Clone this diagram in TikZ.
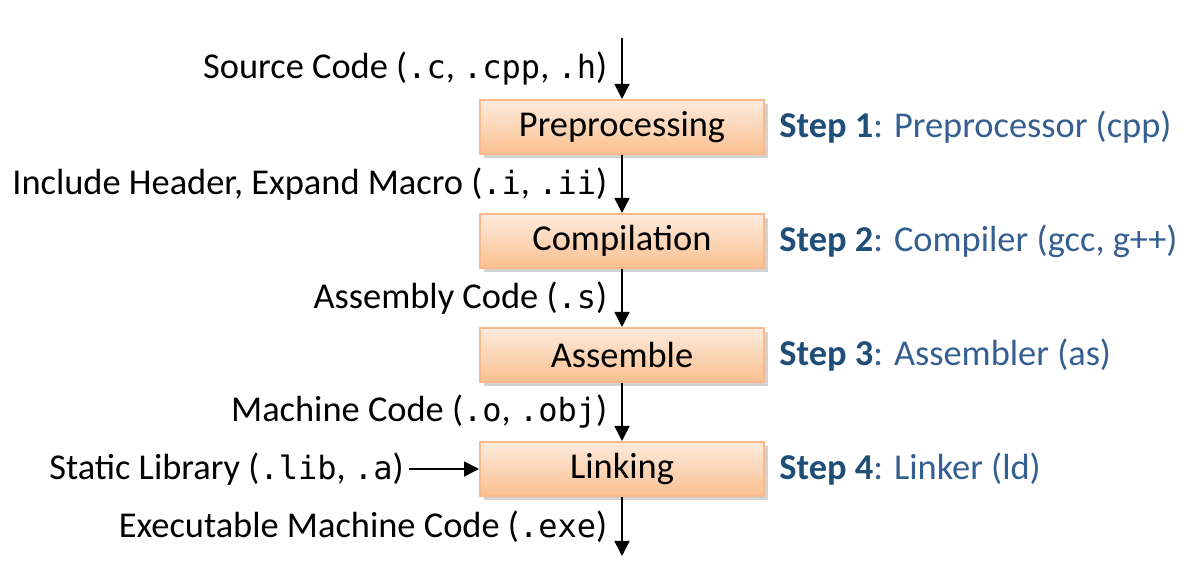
\documentclass[tikz,border=0pt]{standalone}
\usepackage{fontspec}
\setmainfont{Carlito}
\newfontfamily\codefont{DejaVu Sans Mono}[Scale=0.88]
\usepackage{tikz}
\usetikzlibrary{positioning,shadows,arrows.meta}
\definecolor{boxtop}{HTML}{FDEBDD}
\definecolor{boxbot}{HTML}{FAC090}
\definecolor{boxline}{HTML}{F9B98A}
\definecolor{stepbold}{HTML}{1F4E79}
\definecolor{steptext}{HTML}{365F91}
\newcommand{\code}[1]{{\codefont #1}}

\begin{document}
\begin{tikzpicture}[x=1pt,y=1pt,node distance=29pt,
  every node/.style={font=\fontsize{18.2}{21}\selectfont},
  stagebox/.style={draw=boxline, line width=1pt, top color=boxtop, bottom color=boxbot,
    minimum width=142pt, minimum height=27pt,
    drop shadow={shadow xshift=2pt, shadow yshift=-2pt, fill=black!35}},
  flow/.style={-{Triangle[width=7.5pt,length=7.5pt]}, line width=0.8pt},
  filelabel/.style={midway, left=7pt, inner sep=0pt},
  steplabel/.style={right=7pt, inner sep=0pt, text=steptext}]

  \useasboundingbox (0,0) rectangle (600,294);

  \coordinate (in) at (311,275);
  \node(prep)[stagebox] at (311,230.5) {Preprocessing};
  \node(comp)[stagebox,below=of prep] {Compilation};
  \node(asm)[stagebox,below=of comp] {Assemble};
  \node(link)[stagebox,below=of asm] {Linking};
  \coordinate (out) at (311,16);

  \node(lib)[left=35pt of link,inner sep=2.5pt] {Static Library (\code{.lib}, \code{.a})};

  \draw[flow] (in) -- node[filelabel] (src) {Source Code (\code{.c}, \code{.cpp}, \code{.h})} (prep);
  \draw[flow] (prep) -- node[filelabel] (inc) {Include Header, Expand Macro (\code{.i}, \code{.ii})} (comp);
  \draw[flow] (comp) -- node[filelabel] (asmcode) {Assembly Code (\code{.s})} (asm);
  \draw[flow] (asm) -- node[filelabel] (mach) {Machine Code (\code{.o}, \code{.obj})} (link);
  \draw[flow] (link) -- node[filelabel] (exe) {Executable Machine Code (\code{.exe})} (out);
  \draw[flow] (lib) -- (link);

  \node(s1)[steplabel] at (prep.east) {\textbf{\color{stepbold}Step 1}: Preprocessor (cpp)};
  \node(s2)[steplabel] at (comp.east) {\textbf{\color{stepbold}Step 2}: Compiler (gcc, g++)};
  \node(s3)[steplabel] at (asm.east) {\textbf{\color{stepbold}Step 3}: Assembler (as)};
  \node(s4)[steplabel] at (link.east) {\textbf{\color{stepbold}Step 4}: Linker (ld)};
\end{tikzpicture}
\end{document}
